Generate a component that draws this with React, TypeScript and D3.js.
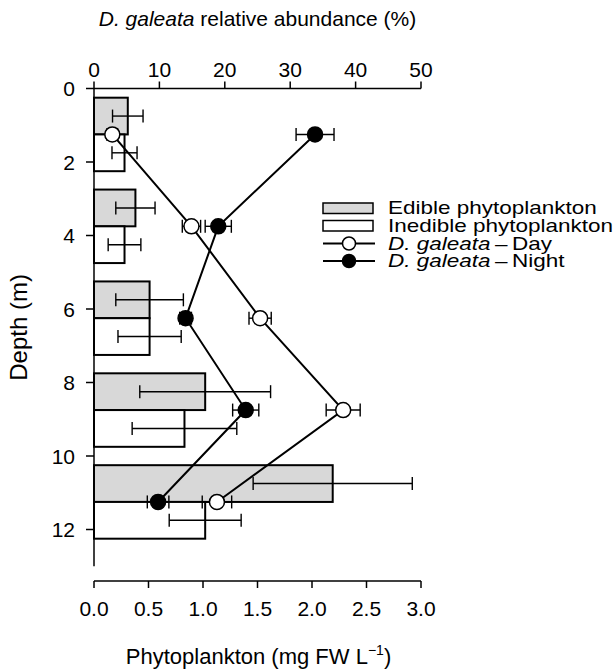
import * as d3 from 'd3';
import { useEffect, useRef } from 'react';

// sampling depths (m), centre of each pair of bars
const depths = [1.25, 3.75, 6.25, 8.75, 11.25];

// phytoplankton biomass (mg FW L-1)
const edibleMean = [0.31, 0.38, 0.51, 1.02, 2.19];
const edibleErr = [0.14, 0.18, 0.31, 0.6, 0.73];
const inedibleMean = [0.28, 0.28, 0.51, 0.83, 1.02];
const inedibleErr = [0.115, 0.15, 0.29, 0.48, 0.33];

// D. galeata relative abundance (%)
const dayMean = [2.8, 14.9, 25.4, 38.1, 18.8];
const dayErr = [0.8, 1.4, 1.7, 2.6, 2.25];
const nightMean = [33.8, 19.0, 14.0, 23.2, 9.8];
const nightErr = [2.9, 2.0, 0.9, 2.0, 1.65];

const depthTicks = [0, 2, 4, 6, 8, 10, 12];
const phytoTicks = [0, 0.5, 1, 1.5, 2, 2.5, 3];
const abundTicks = [0, 10, 20, 30, 40, 50];

const FONT = '"Liberation Sans", Arial, Helvetica, sans-serif';

const App = () => {
  const ref = useRef<SVGSVGElement | null>(null);

  useEffect(() => {
    if (!ref.current) return;
    const svg = d3.select(ref.current);
    svg.selectAll('*').remove();

    const width = 616;
    const height = 671;
    svg.attr('width', width).attr('height', height);

    const left = 94;
    const right = 421;
    const top = 88.5;

    const y = d3.scaleLinear().domain([0, 13]).range([top, top + 13 * 36.75]);
    const xPhyto = d3.scaleLinear().domain([0, 3]).range([left, right]);
    const xAbund = d3.scaleLinear().domain([0, 50]).range([left, right]);

    const g = svg.append('g').attr('font-family', FONT).attr('fill', '#000');

    // bars
    const barData = depths.flatMap((d, i) => [
      { y0: d - 1, y1: d, v: edibleMean[i], e: edibleErr[i], fill: '#d8d8d8' },
      { y0: d, y1: d + 1, v: inedibleMean[i], e: inedibleErr[i], fill: '#fff' }
    ]);

    g.selectAll('.bar')
      .data(barData)
      .enter()
      .append('rect')
      .attr('x', xPhyto(0))
      .attr('y', d => y(d.y0))
      .attr('width', d => xPhyto(d.v) - xPhyto(0))
      .attr('height', d => y(d.y1) - y(d.y0))
      .attr('fill', d => d.fill)
      .attr('stroke', '#000')
      .attr('stroke-width', 2);

    const errBar = (
      sel: d3.Selection<SVGGElement, unknown, null, undefined>,
      cx0: number,
      cx1: number,
      cy: number,
      cap: number,
      sw: number
    ) => {
      sel.append('line').attr('x1', cx0).attr('x2', cx1).attr('y1', cy).attr('y2', cy)
        .attr('stroke', '#000').attr('stroke-width', sw);
      [cx0, cx1].forEach(cx => {
        sel.append('line').attr('x1', cx).attr('x2', cx).attr('y1', cy - cap).attr('y2', cy + cap)
          .attr('stroke', '#000').attr('stroke-width', sw);
      });
    };

    const barErrG = g.append('g');
    barData.forEach(d => {
      const cy = y((d.y0 + d.y1) / 2);
      errBar(barErrG, xPhyto(d.v - d.e), xPhyto(d.v + d.e), cy, 6.5, 1.4);
    });

    // D. galeata lines
    const line = d3.line<number>()
      .x(v => xAbund(v))
      .y((_, i) => y(depths[i]));

    const series = [
      { mean: dayMean, err: dayErr, fill: '#fff' },
      { mean: nightMean, err: nightErr, fill: '#000' }
    ];

    series.forEach(s => {
      g.append('path')
        .attr('d', line(s.mean) || '')
        .attr('fill', 'none')
        .attr('stroke', '#000')
        .attr('stroke-width', 2);
    });

    series.forEach(s => {
      const eg = g.append('g');
      s.mean.forEach((m, i) => {
        errBar(eg, xAbund(m - s.err[i]), xAbund(m + s.err[i]), y(depths[i]), 6.5, 1.4);
      });
    });

    series.forEach(s => {
      g.selectAll(null)
        .data(s.mean)
        .enter()
        .append('circle')
        .attr('cx', v => xAbund(v))
        .attr('cy', (_, i) => y(depths[i]))
        .attr('r', 7.5)
        .attr('fill', s.fill)
        .attr('stroke', '#000')
        .attr('stroke-width', 1.5);
    });

    // left axis
    const axG = g.append('g').attr('stroke', '#000').attr('stroke-width', 1.5);
    axG.append('line').attr('x1', left).attr('x2', left).attr('y1', y(0)).attr('y2', y(13));
    depthTicks.forEach(t => {
      axG.append('line').attr('x1', left - 8).attr('x2', left).attr('y1', y(t)).attr('y2', y(t));
    });
    g.selectAll('.ylab')
      .data(depthTicks)
      .enter()
      .append('text')
      .attr('x', 75)
      .attr('y', t => y(t) + 7.5)
      .attr('text-anchor', 'end')
      .attr('font-size', 21)
      .text(t => String(t));

    // top axis
    axG.append('line').attr('x1', left).attr('x2', right).attr('y1', top).attr('y2', top);
    abundTicks.forEach(t => {
      axG.append('line').attr('x1', xAbund(t)).attr('x2', xAbund(t)).attr('y1', top - 7).attr('y2', top);
    });
    g.selectAll('.tlab')
      .data(abundTicks)
      .enter()
      .append('text')
      .attr('x', t => xAbund(t))
      .attr('y', 77)
      .attr('text-anchor', 'middle')
      .attr('font-size', 21)
      .text(t => String(t));

    // bottom axis
    const by = 581;
    axG.append('line').attr('x1', left).attr('x2', right).attr('y1', by).attr('y2', by);
    phytoTicks.forEach(t => {
      axG.append('line').attr('x1', xPhyto(t)).attr('x2', xPhyto(t)).attr('y1', by).attr('y2', by + 7);
    });
    g.selectAll('.blab')
      .data(phytoTicks)
      .enter()
      .append('text')
      .attr('x', t => xPhyto(t))
      .attr('y', 616)
      .attr('text-anchor', 'middle')
      .attr('font-size', 21)
      .text(t => d3.format('.1f')(t));

    // titles
    const topTitle = g.append('text')
      .attr('x', (left + right) / 2)
      .attr('y', 26)
      .attr('text-anchor', 'middle')
      .attr('font-size', 21);
    topTitle.append('tspan').attr('font-style', 'italic').text('D. galeata');
    topTitle.append('tspan').text(' relative abundance (%)');

    const botTitle = g.append('text')
      .attr('x', (left + right) / 2 + 1)
      .attr('y', 664)
      .attr('text-anchor', 'middle')
      .attr('font-size', 22);
    botTitle.append('tspan').text('Phytoplankton (mg FW L');
    botTitle.append('tspan').attr('font-size', 14).attr('dy', -9).text('\u22121');
    botTitle.append('tspan').attr('dy', 9).text(')');

    g.append('text')
      .attr('transform', `translate(27,${y(6.5)}) rotate(-90)`)
      .attr('text-anchor', 'middle')
      .attr('font-size', 24)
      .text('Depth (m)');

    // legend (text is drawn a little squat, as in the original)
    const lx = 323;
    const rows = [208, 225.5, 243.5, 261];
    const lg = g.append('g');
    const legendText = (ry: number) =>
      lg.append('text')
        .attr('transform', `translate(388,${ry + 6.3}) scale(1,0.78)`)
        .attr('font-size', 22.5);
    [
      { fill: '#d8d8d8', label: 'Edible phytoplankton' },
      { fill: '#fff', label: 'Inedible phytoplankton' }
    ].forEach((r, i) => {
      lg.append('rect')
        .attr('x', lx).attr('y', rows[i] - 5).attr('width', 50).attr('height', 10.5)
        .attr('fill', r.fill).attr('stroke', '#000').attr('stroke-width', 1.5);
      legendText(rows[i]).text(r.label);
    });
    [
      { fill: '#fff', label: 'Day' },
      { fill: '#000', label: 'Night' }
    ].forEach((r, i) => {
      const ry = rows[i + 2];
      lg.append('line').attr('x1', lx).attr('x2', lx + 52).attr('y1', ry).attr('y2', ry)
        .attr('stroke', '#000').attr('stroke-width', 2);
      lg.append('circle').attr('cx', lx + 26).attr('cy', ry).attr('r', 6.5)
        .attr('fill', r.fill).attr('stroke', '#000').attr('stroke-width', 1.5);
      const t = legendText(ry);
      t.append('tspan').attr('font-style', 'italic').text('D. galeata');
      t.append('tspan').text('\u2009\u2013\u2009' + r.label);
    });
  }, []);

  return <svg ref={ref} style={{ position: 'absolute', left: 0, top: 0 }} />;
};

export default App;
